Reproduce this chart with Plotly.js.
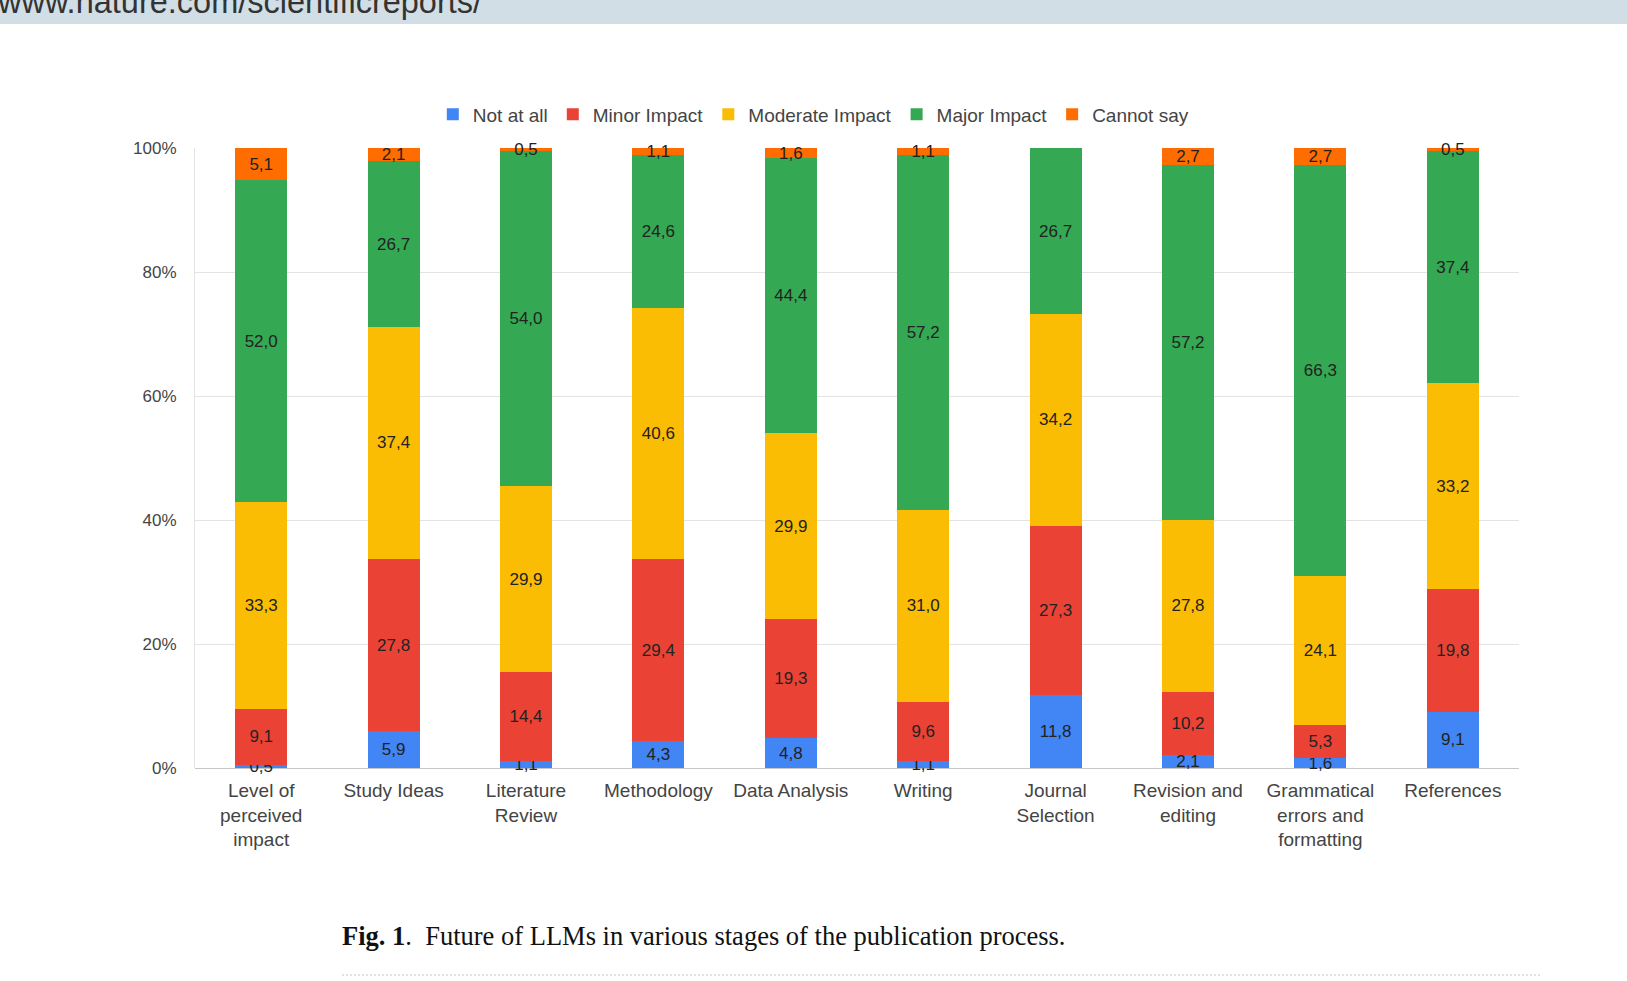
<!DOCTYPE html>
<html>
<head>
<meta charset="utf-8">
<script src="https://cdn.plot.ly/plotly-3.0.1.min.js"></script>
<style>
  html, body { margin: 0; padding: 0; background: #fff; width: 1627px; height: 981px; overflow: hidden; }
  #chart { position: absolute; left: 0; top: 0; width: 1627px; height: 981px; }
  #banner { position: absolute; left: 0; top: 0; width: 1627px; height: 24px; background: #d1dee5; overflow: hidden; }
  #banner span { position: absolute; left: -2px; top: -14px; font-family: "Liberation Sans", Arial, sans-serif; font-size: 32.5px; line-height: 32.5px; color: #333; white-space: nowrap; }
  #caption { position: absolute; left: 342px; top: 923px; font-family: "Liberation Serif", "Times New Roman", serif; font-size: 26.5px; line-height: 26.5px; color: #111; white-space: nowrap; }
  #dots { position: absolute; left: 342px; top: 974px; width: 1198px; height: 0; border-top: 2px dotted #dde3e6; }
</style>
</head>
<body>
<div id="chart"></div>
<div id="banner"><span>www.nature.com/scientificreports/</span></div>
<div id="caption"><b>Fig. 1</b>.&nbsp; Future of LLMs in various stages of the publication process.</div>
<div id="dots"></div>
<script>
const categories = ['Level of<br>perceived<br>impact', 'Study Ideas', 'Literature<br>Review', 'Methodology', 'Data Analysis', 'Writing', 'Journal<br>Selection', 'Revision and<br>editing', 'Grammatical<br>errors and<br>formatting', 'References'];
const seriesNames = ['Not at all', 'Minor Impact', 'Moderate Impact', 'Major Impact', 'Cannot say'];
const notAtAll  = [0.5, 5.9, 1.1, 4.3, 4.8, 1.1, 11.8, 2.1, 1.6, 9.1];
const minorImpact = [9.1, 27.8, 14.4, 29.4, 19.3, 9.6, 27.3, 10.2, 5.3, 19.8];
const moderateImpact = [33.3, 37.4, 29.9, 40.6, 29.9, 31.0, 34.2, 27.8, 24.1, 33.2];
const majorImpact = [52.0, 26.7, 54.0, 24.6, 44.4, 57.2, 26.7, 57.2, 66.3, 37.4];
const cannotSay = [5.1, 2.1, 0.5, 1.1, 1.6, 1.1, 0, 2.7, 2.7, 0.5];
const yTickValues = [0, 20, 40, 60, 80, 100];

const seriesValues = [notAtAll, minorImpact, moderateImpact, majorImpact, cannotSay];
const seriesColors = ['#4285f4', '#ea4335', '#fbbc04', '#34a853', '#ff6d01'];

const fmt = v => v > 0 ? v.toFixed(1).replace('.', ',') : '';

const traces = seriesValues.map((vals, i) => ({
  type: 'bar',
  name: seriesNames[i],
  x: categories,
  y: vals,
  marker: { color: seriesColors[i], line: { width: 0 } },
  text: vals.map(fmt),
  textposition: 'inside',
  insidetextanchor: 'middle',
  constraintext: 'none',
  cliponaxis: false,
  textangle: 0,
  textfont: { family: 'Liberation Sans, Arial, sans-serif', size: 17, color: '#222' },
  hoverinfo: 'skip'
}));

const layout = {
  width: 1627,
  height: 981,
  margin: { l: 195, r: 108, t: 148, b: 213, pad: 0 },
  paper_bgcolor: '#fff',
  plot_bgcolor: '#fff',
  barmode: 'stack',
  barnorm: 'percent',
  bargap: 0.607,
  font: { family: 'Liberation Sans, Arial, sans-serif', color: '#444' },
  showlegend: true,
  legend: {
    orientation: 'h',
    x: 0.467, xanchor: 'center',
    y: 1.054, yanchor: 'middle',
    traceorder: 'normal',
    itemwidth: 30,
    font: { size: 19, color: '#444' },
    bgcolor: 'rgba(0,0,0,0)'
  },
  xaxis: {
    type: 'category',
    tickfont: { size: 19, color: '#444' },
    showgrid: false,
    showline: false,
    ticks: '',
    ticklabelstandoff: 9,
    fixedrange: true
  },
  yaxis: {
    range: [0, 100.05],
    tickvals: yTickValues,
    ticktext: yTickValues.map(v => v + '%'),
    tickfont: { size: 17, color: '#444' },
    showgrid: true,
    gridcolor: '#e3e3e3',
    gridwidth: 1,
    zeroline: true,
    zerolinecolor: '#c6c6c6',
    zerolinewidth: 1,
    showline: true,
    linecolor: '#e3e3e3',
    linewidth: 1,
    ticks: '',
    ticklabelstandoff: 14,
    fixedrange: true
  }
};

Plotly.newPlot('chart', traces, layout, { staticPlot: true, displayModeBar: false });
</script>
</body>
</html>
